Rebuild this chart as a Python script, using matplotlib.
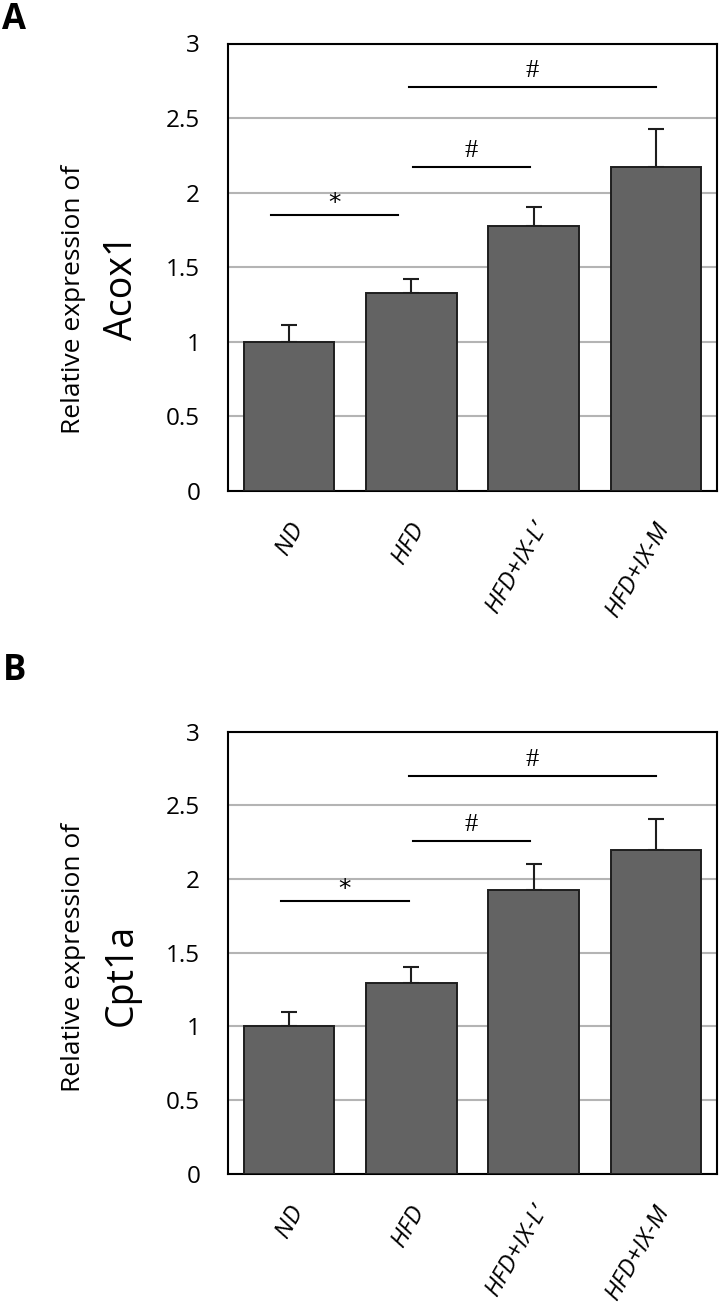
import matplotlib
matplotlib.use("Agg")
import matplotlib.pyplot as plt
from matplotlib.transforms import ScaledTranslation

# ---------------- data ----------------
categories = ["ND", "HFD", "HFD+IX-L\u2019", "HFD+IX-M"]
acox1_mean = [1.00, 1.33, 1.775, 2.17]
acox1_err = [0.115, 0.09, 0.13, 0.26]
cpt1a_mean = [1.00, 1.295, 1.925, 2.20]
cpt1a_err = [0.10, 0.105, 0.177, 0.21]
y_ticks = [0, 0.5, 1, 1.5, 2, 2.5, 3]
y_tick_labels = ["0", "0.5", "1", "1.5", "2", "2.5", "3"]
genes = ["Acox1", "Cpt1a"]
panel_letters = ["A", "B"]
# significance bars: (x start, x end, y, mark)
acox1_sig = [(-0.15, 0.89, 1.85, "*"), (1.01, 1.97, 2.17, "#"), (0.98, 3.0, 2.71, "#")]
cpt1a_sig = [(-0.07, 0.98, 1.85, "*"), (1.01, 1.97, 2.26, "#"), (0.98, 3.0, 2.70, "#")]

# ---------------- style ----------------
W, H = 720, 1312
FONT = "Open Sans"
plt.rcParams["font.family"] = [FONT, "DejaVu Sans"]
BAR = "#636363"
EDGE = "#1e1e1e"
GRID = "#b4b4b4"

fig = plt.figure(figsize=(W / 100, H / 100), dpi=100)


def fx(x):
    return x / W


def fy(y):
    return 1 - y / H


panels = [
    dict(box=(228, 43.5, 717, 491), mean=acox1_mean, err=acox1_err, sig=acox1_sig,
         gene=genes[0], letter=panel_letters[0], letter_xy=(14, 20),
         rel_xy=(73.5, 299), gene_xy=(122, 287)),
    dict(box=(228, 731.7, 717, 1173.7), mean=cpt1a_mean, err=cpt1a_err, sig=cpt1a_sig,
         gene=genes[1], letter=panel_letters[1], letter_xy=(15, 671),
         rel_xy=(73.5, 957), gene_xy=(122, 975)),
]

for p in panels:
    x0, y0, x1, y1 = p["box"]
    ax = fig.add_axes([fx(x0), fy(y1), (x1 - x0) / W, (y1 - y0) / H])
    xs = list(range(len(categories)))
    ax.set_axisbelow(True)
    ax.bar(xs, p["mean"], width=0.74, color=BAR, edgecolor=EDGE, linewidth=1.4, zorder=3)
    ax.errorbar(xs, p["mean"], yerr=[[0] * len(xs), p["err"]], fmt="none",
                ecolor=EDGE, elinewidth=1.5, capsize=6, capthick=1.5, zorder=2)
    ax.set_xlim(-0.5, len(categories) - 0.5)
    ax.set_ylim(0, 3)
    ax.set_yticks(y_ticks)
    ax.set_yticklabels(y_tick_labels)
    ax.yaxis.grid(True, color=GRID, linewidth=1.5)
    ax.tick_params(axis="y", length=0, pad=20, labelsize=17.5)
    ax.tick_params(axis="x", length=0, pad=0)
    for s in ax.spines.values():
        s.set_linewidth(1.5)
        s.set_color("black")
    ax.set_xticks(xs)
    ax.set_xticklabels(categories, rotation=60, ha="right", va="center",
                       rotation_mode="anchor", fontsize=17.5, style="italic")
    off = ScaledTranslation(9 / 100, -33 / 100, fig.dpi_scale_trans)
    for lab in ax.get_xticklabels():
        lab.set_transform(lab.get_transform() + off)

    for (sx0, sx1, sy, mark) in p["sig"]:
        ax.plot([sx0, sx1], [sy, sy], color="black", linewidth=1.5, zorder=4)
        if mark == "#":
            ax.text((sx0 + sx1) / 2, sy + 0.035, mark, ha="center", va="bottom",
                    fontsize=19, family=["Liberation Serif"], zorder=4)
        else:
            ax.text((sx0 + sx1) / 2, sy + 0.0, mark, ha="center", va="bottom",
                    fontsize=18, family=["DejaVu Sans"], zorder=4)

    fig.text(fx(p["letter_xy"][0]), fy(p["letter_xy"][1]), p["letter"], ha="center",
             va="center", fontsize=25, fontweight="bold")
    fig.text(fx(p["rel_xy"][0]), fy(p["rel_xy"][1]), "Relative expression of",
             rotation=90, ha="center", va="center", fontsize=19)
    fig.text(fx(p["gene_xy"][0]), fy(p["gene_xy"][1]), p["gene"],
             rotation=90, ha="center", va="center", fontsize=27)

fig.savefig("out.png", dpi=100)
